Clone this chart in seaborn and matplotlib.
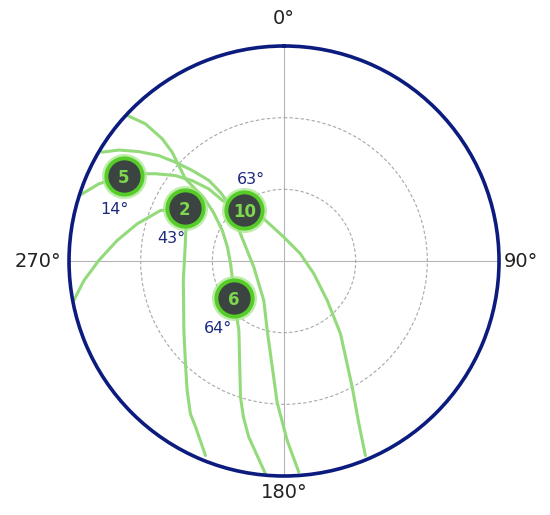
import numpy as np
import matplotlib
matplotlib.use("Agg")
import matplotlib.pyplot as plt
import seaborn as sns

sns.set_theme(style="white")
plt.rcParams["font.family"] = ["DejaVu Sans"]

# satellites: id, azimuth (deg, clockwise from north), elevation (deg)
sat_ids = ["5", "2", "10", "6"]
sat_azimuth = [298, 298, 322, 234]
sat_elevation = [14, 43, 63, 64]

# sky tracks (azimuth / elevation pairs)
track_a_az = [287.7, 292.6, 298.0, 300.7, 304.2, 308.2, 311.2, 313.8, 314.5, 322.0,
              334.4, 359.5, 66.4, 88.6, 113.2, 132.4, 142.2, 151.6, 155.3, 157.3]
track_a_el = [0.0, 6.0, 14.0, 18.5, 25.0, 32.2, 38.9, 46.4, 53.9, 63.0,
              70.4, 80.0, 82.5, 81.3, 76.4, 65.5, 51.4, 30.0, 15.0, 1.7]

track_b_az = [312.9, 314.7, 315.1, 314.2, 312.2, 309.8, 308.3, 304.5, 296.3, 283.4,
              267.0, 249.3, 234.0, 213.0, 197.7, 194.5, 191.3, 185.0]
track_b_el = [0.5, 8.4, 17.8, 24.7, 30.5, 36.3, 47.1, 54.2, 61.2, 65.7,
              67.6, 67.0, 64.0, 55.3, 30.1, 22.3, 14.8, 0.6]

track_c_az = [300.9, 303.9, 307.0, 310.1, 312.3, 314.6, 317.0, 317.2, 316.0, 302.0,
              258.4, 207.1, 193.6, 182.8, 179.0, 176.0]
track_c_el = [1.3, 6.7, 13.9, 21.5, 28.6, 36.0, 43.9, 50.9, 56.5, 68.5,
              77.1, 71.4, 60.1, 30.8, 14.9, 1.4]

track_d_az = [259.4, 264.4, 270.2, 277.0, 284.2, 292.2, 298.0, 290.2, 276.3, 259.3,
              235.3, 223.8, 216.8, 211.5, 208.0, 202.0]
track_d_el = [0.5, 5.8, 12.5, 19.6, 26.6, 34.1, 43.0, 46.3, 48.3, 47.1,
              39.0, 30.4, 22.3, 15.0, 11.2, 2.2]

tracks = [
    (track_a_az, track_a_el),
    (track_b_az, track_b_el),
    (track_c_az, track_c_el),
    (track_d_az, track_d_el),
]

compass_angles = [0, 90, 180, 270]
compass_labels = ["0°", "90°", "180°", "270°"]

# layout: where the compass labels and elevation labels sit
compass_radius = [101.5, 99, 97, 103]
label_offsets = [(-7, -24), (-10, -22), (5, 22), (-11, -22)]

TRACK = "#93da7b"
NAVY = "#0c1b7e"

fig = plt.figure(figsize=(5.5, 5.15), dpi=100)
ax = fig.add_axes([0.1255, 0.0757, 0.7818, 0.835], projection="polar")
ax.set_theta_zero_location("N")
ax.set_theta_direction(-1)
ax.set_ylim(0, 90)

ax.set_xticks(np.radians(compass_angles))
ax.set_xticklabels([])
ax.set_yticks([30, 60])
ax.set_yticklabels([])
ax.xaxis.grid(True, color="#b5b5b5", linewidth=0.8, linestyle="-")
ax.yaxis.grid(True, color="#a8a8a8", linewidth=0.8, linestyle=(0, (3, 2)))
ax.spines["polar"].set_edgecolor(NAVY)
ax.spines["polar"].set_linewidth(2.6)

for az, el in tracks:
    sns.lineplot(
        x=np.radians(az),
        y=90 - np.array(el),
        sort=False,
        estimator=None,
        color=TRACK,
        linewidth=2.2,
        solid_capstyle="round",
        solid_joinstyle="round",
        legend=False,
        ax=ax,
        zorder=2,
    )

theta = np.radians(sat_azimuth)
zen = 90 - np.array(sat_elevation)

# soft glow, then the dark disc with a bright rim
sns.scatterplot(x=theta, y=zen, s=1050, color="#a8e78e", alpha=0.75,
                linewidth=0, legend=False, ax=ax, zorder=4)
sns.scatterplot(x=theta, y=zen, s=680, color="#3b4440", edgecolor="#55cc28",
                linewidth=2.8, legend=False, ax=ax, zorder=5)

for sid, t, z, el, off in zip(sat_ids, theta, zen, sat_elevation, label_offsets):
    ax.text(t, z, sid, ha="center", va="center_baseline", color="#7fd64f",
            fontsize=12, fontweight="bold", zorder=6)
    ax.annotate(f"{el}°", (t, z), xytext=off, textcoords="offset points",
                ha="center", va="center", color="#1d2a7e", fontsize=11.5,
                zorder=6)

for a, lab, r in zip(compass_angles, compass_labels, compass_radius):
    ax.text(np.radians(a), r, lab, ha="center", va="center", fontsize=14,
            color="#222222", clip_on=False)

ax.set_xlabel("")
ax.set_ylabel("")

fig.savefig("out.png", dpi=100, facecolor="white")
